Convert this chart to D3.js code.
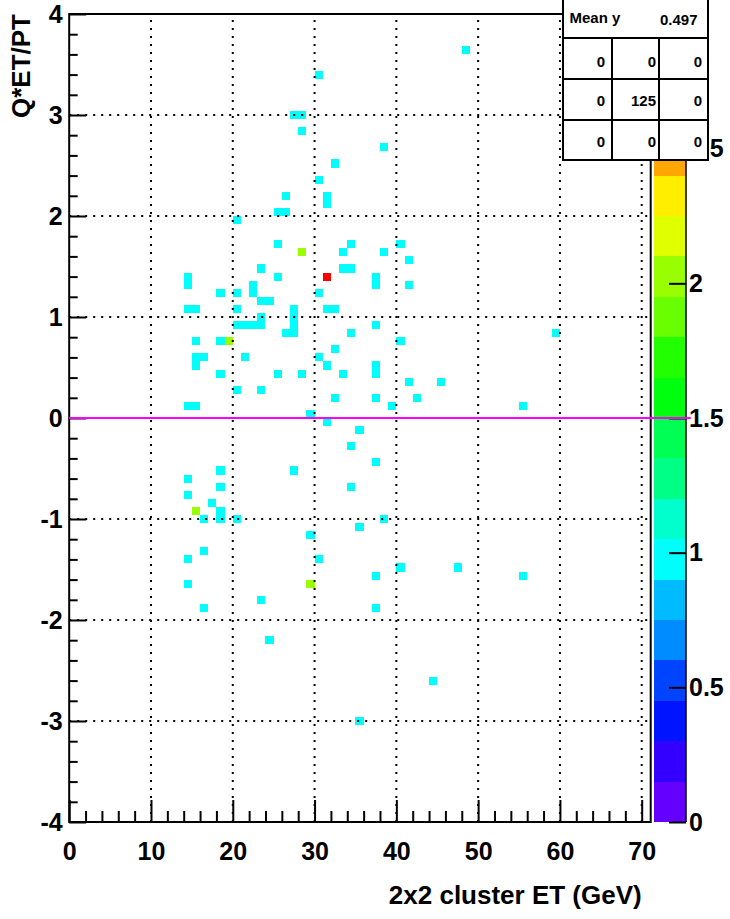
<!DOCTYPE html>
<html>
<head>
<meta charset="utf-8">
<script src="https://cdn.jsdelivr.net/npm/d3@7"></script>
<style>
  html, body { margin: 0; padding: 0; background: #fff; }
  svg { display: block; }
</style>
</head>
<body>
<svg id="chart" width="730" height="919"></svg>
<script>
// ---------------- data ----------------
// x bin lower edge (GeV, bin width 1), y bin centre (bin width 0.08), bin content
const cellX = [48,30,27,28,28,38,32,30,26,31,31,25,26,20,25,34,40,28,33,38,41,23,33,34,25,14,31,37,14,22,37,41,22,18,20,30,23,24,14,15,20,27,31,32,23,27,20,21,22,23,27,37,26,27,34,59,15,18,19,40,32,15,16,21,30,15,31,37,18,25,28,33,37,41,45,20,23,32,37,42,14,15,39,55,29,
  31,35,34,37,18,27,14,18,34,14,17,15,18,18,16,20,38,35,29,16,14,30,40,47,37,55,14,29,23,16,37,24,44,35];
const cellY = [3.64,3.40,3.00,3.00,2.84,2.68,2.52,2.36,2.20,2.20,2.12,2.04,2.04,1.96,1.72,1.72,1.72,1.64,1.64,1.64,1.56,1.48,1.48,1.48,1.40,1.40,1.40,1.40,1.32,1.32,1.32,1.32,1.24,1.24,1.24,1.24,1.16,1.16,1.08,1.08,1.08,1.08,1.08,1.08,1.00,1.00,0.92,0.92,0.92,0.92,0.92,0.92,0.84,0.84,0.84,0.84,0.76,0.76,0.76,0.76,0.68,0.60,0.60,0.60,0.60,0.52,0.52,0.52,0.44,0.44,0.44,0.44,0.44,0.36,0.36,0.28,0.28,0.20,0.20,0.20,0.12,0.12,0.12,0.12,0.04,
  -0.04,-0.12,-0.28,-0.44,-0.52,-0.52,-0.60,-0.68,-0.68,-0.76,-0.84,-0.92,-0.92,-1.00,-1.00,-1.00,-1.00,-1.08,-1.16,-1.32,-1.40,-1.40,-1.48,-1.48,-1.56,-1.56,-1.64,-1.64,-1.80,-1.88,-1.88,-2.20,-2.60,-3.00];
const cellN = [1,1,1,1,1,1,1,1,1,1,1,1,1,1,1,1,1,2,1,1,1,1,1,1,1,1,3,1,1,1,1,1,1,1,1,1,1,1,1,1,1,1,1,1,1,1,1,1,1,1,1,1,1,1,1,1,1,1,2,1,1,1,1,1,1,1,1,1,1,1,1,1,1,1,1,1,1,1,1,1,1,1,1,1,1,
  1,1,1,1,1,1,1,1,1,1,1,2,1,1,1,1,1,1,1,1,1,1,1,1,1,1,1,2,1,1,1,1,1,1];

const xTicks = [0,10,20,30,40,50,60,70];
const yTicks = [-4,-3,-2,-1,0,1,2,3,4];
const zTicks = [0,0.5,1,1.5,2,2.5,3];
const zLabels = ["0","0.5","1","1.5","2","2.5",""];
const statsTitle = ["Mean y", "0.497"];
const statsCells = [["0","0","0"],["0","125","0"],["0","0","0"]];
const xTitle = "2x2 cluster ET (GeV)";
const yTitle = "Q*ET/PT";

// ---------------- layout ----------------
const FONT = "'Liberation Sans', Arial, Helvetica, sans-serif";
const svg = d3.select("#chart");
const L = 69.2, R = 650.7, T = 14, B = 822;
const x = d3.scaleLinear([0, 71.1], [L, R]);
const y = d3.scaleLinear([-4, 4], [B, T]);
const zMax = 3, nLev = 20;
const z = d3.scaleLinear([0, zMax], [B, T]);
const xBin = 1, yBin = 0.08;

// ROOT "pretty palette" (50 colours, HLS) with 20 contour levels
function levelColor(k) {
  const idx = Math.floor((k + 0.99) * 50 / nLev);
  const hue = 280 - (idx + 1) * (280 / 50);
  return d3.hsl(hue, 1, 0.5).formatHex();
}
function valColor(v) {
  let k = Math.floor(v / (zMax / nLev));
  k = Math.max(0, Math.min(nLev - 1, k));
  return levelColor(k);
}

svg.append("rect").attr("width", 730).attr("height", 919).attr("fill", "#fff");

// cells
const cells = cellX.map((cx, i) => ({x: cx, y: cellY[i], n: cellN[i]}));
svg.append("g").attr("shape-rendering", "crispEdges")
  .selectAll("rect").data(cells).join("rect")
  .attr("x", d => x(d.x))
  .attr("width", d => x(d.x + xBin) - x(d.x))
  .attr("y", d => y(d.y + yBin / 2))
  .attr("height", d => y(d.y - yBin / 2) - y(d.y + yBin / 2))
  .attr("fill", d => valColor(d.n));

// grid
const grid = svg.append("g").attr("stroke", "#000").attr("stroke-width", 2)
  .attr("stroke-dasharray", "2,6");
xTicks.filter(t => t > 0).forEach(t => {
  grid.append("line").attr("x1", x(t)).attr("x2", x(t)).attr("y1", B).attr("y2", T);
});
yTicks.filter(t => t > -4 && t < 4).forEach(t => {
  grid.append("line").attr("x1", L).attr("x2", R).attr("y1", y(t)).attr("y2", y(t));
});

// axes
function styleAxis(g, size) {
  g.select(".domain").remove();
  g.selectAll("line").attr("stroke", "#000").attr("stroke-width", 2);
  g.selectAll("text").attr("font-family", FONT).attr("font-size", size)
    .attr("font-weight", "bold").attr("fill", "#000");
}
const plain = d => String(d);
const minorX = d3.range(0, 71, 2).filter(v => v % 10 !== 0);
svg.append("g").attr("transform", `translate(0,${B})`)
  .call(d3.axisBottom(x).tickValues(minorX).tickSizeInner(-11).tickSizeOuter(0).tickFormat(""))
  .call(g => styleAxis(g, 25));
svg.append("g").attr("transform", `translate(0,${B})`)
  .call(d3.axisBottom(x).tickValues(xTicks).tickSizeInner(-22).tickSizeOuter(0).tickPadding(20).tickFormat(plain))
  .call(g => styleAxis(g, 25));

const minorY = d3.range(-40, 41, 2).map(v => v / 10).filter(v => Math.abs(v - Math.round(v)) > 1e-6);
svg.append("g").attr("transform", `translate(${L},0)`)
  .call(d3.axisLeft(y).tickValues(minorY).tickSizeInner(-8.5).tickSizeOuter(0).tickFormat(""))
  .call(g => styleAxis(g, 25));
svg.append("g").attr("transform", `translate(${L},0)`)
  .call(d3.axisLeft(y).tickValues(yTicks).tickSizeInner(-17).tickSizeOuter(0).tickPadding(6.5).tickFormat(plain))
  .call(g => styleAxis(g, 25));

// frame
svg.append("rect").attr("x", L).attr("y", T).attr("width", R - L).attr("height", B - T)
  .attr("fill", "none").attr("stroke", "#000").attr("stroke-width", 2);

// colour bar
const cbL = 654, cbR = 686;
const levels = d3.range(nLev);
svg.append("g").attr("shape-rendering", "crispEdges")
  .selectAll("rect").data(levels).join("rect")
  .attr("x", cbL).attr("width", cbR - cbL)
  .attr("y", k => z((k + 1) * zMax / nLev))
  .attr("height", k => z(k * zMax / nLev) - z((k + 1) * zMax / nLev))
  .attr("fill", k => levelColor(k));
svg.append("g").attr("transform", `translate(${cbR},0)`)
  .call(d3.axisRight(z).tickValues(zTicks).tickSizeInner(-17).tickSizeOuter(0).tickPadding(3)
    .tickFormat((d, i) => zLabels[i]))
  .call(g => styleAxis(g, 25));
svg.append("line").attr("x1", cbR).attr("x2", cbR).attr("y1", T).attr("y2", B)
  .attr("stroke", "#000").attr("stroke-width", 1.5);

// magenta line at y = 0
svg.append("line").attr("x1", x(0)).attr("x2", x(76)).attr("y1", y(0)).attr("y2", y(0))
  .attr("stroke", "#ff00ff").attr("stroke-width", 2);

// titles
svg.append("text").attr("x", x(70)).attr("y", 904).attr("text-anchor", "end")
  .attr("font-family", FONT).attr("font-size", 26).attr("font-weight", "bold").text(xTitle);
svg.append("text").attr("transform", `translate(30,${T}) rotate(-90)`).attr("text-anchor", "end")
  .attr("font-family", FONT).attr("font-size", 26).attr("font-weight", "bold").text(yTitle);

// stats box
const sb = svg.append("g");
const sL = 563, sR = 708, sT = -2, sB = 160;
sb.append("rect").attr("x", sL).attr("y", sT).attr("width", sR - sL).attr("height", sB - sT)
  .attr("fill", "#fff").attr("stroke", "#000").attr("stroke-width", 2);
[38, 79, 120].forEach(v => sb.append("line").attr("x1", sL).attr("x2", sR).attr("y1", v).attr("y2", v)
  .attr("stroke", "#000").attr("stroke-width", 2));
[612, 659].forEach(v => sb.append("line").attr("x1", v).attr("x2", v).attr("y1", 38).attr("y2", sB)
  .attr("stroke", "#000").attr("stroke-width", 2));
sb.append("text").attr("x", 569.5).attr("y", 23).attr("font-family", FONT).attr("font-size", 15)
  .attr("font-weight", "bold").text(statsTitle[0]);
sb.append("text").attr("x", 697.5).attr("y", 25).attr("text-anchor", "end").attr("font-family", FONT)
  .attr("font-size", 15).attr("font-weight", "bold").text(statsTitle[1]);
const colRight = [605, 656, 702], rowBase = [66.5, 106, 146.5];
statsCells.forEach((row, r) => row.forEach((t, c) => {
  sb.append("text").attr("x", colRight[c]).attr("y", rowBase[r]).attr("text-anchor", "end")
    .attr("font-family", FONT).attr("font-size", 15).attr("font-weight", "bold").text(t);
}));
</script>
</body>
</html>
